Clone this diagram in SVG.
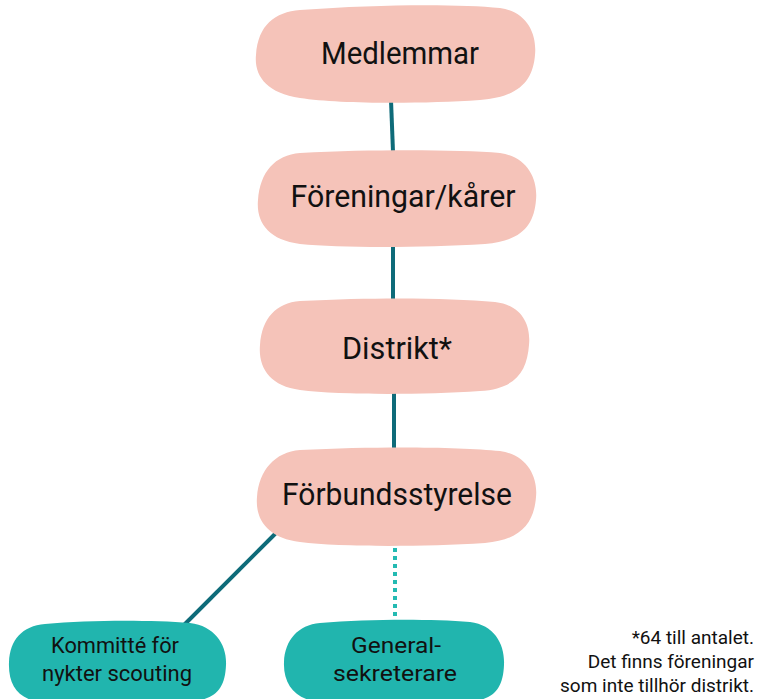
<svg xmlns="http://www.w3.org/2000/svg" width="759" height="699" viewBox="0 0 759 699">
<style>
.pink{fill:#f5c3b9}
.teal{fill:#21b5ae}
.t{font-family:Roboto,"Liberation Sans",sans-serif;fill:#111;text-anchor:middle}
.big{font-size:31px}
.small{font-size:22px}
.note{font-family:Roboto,"Liberation Sans",sans-serif;font-size:19px;fill:#111;text-anchor:end}
.c{stroke:#0e6b79;stroke-width:4;fill:none}
.d{stroke:#23bab2;stroke-width:4;fill:none;stroke-dasharray:4 4}
</style>
<rect width="759" height="699" fill="#fff"/>
<g id="connectors">
<path class="c" d="M391 100 L393 152"/>
<path class="c" d="M393 243 L393 300"/>
<path class="c" d="M394 390 L394 449"/>
<path class="c" d="M277 532 L183 626"/>
<path class="d" d="M395 548 L395 620"/>
</g>
<g id="medlemmar">
<path class="pink" d="M300 10 C380 4,460 4,500 8 C528 12,537 35,535 55 C533 80,520 97,480 100 C420 104,340 104,300 98 C266 93,254 75,256 55 C258 25,275 12,300 10 Z"/>
<text class="t big" x="400" y="64" textLength="158" lengthAdjust="spacingAndGlyphs">Medlemmar</text>
</g>
<g id="foreningar">
<path class="pink" d="M300 153 C380 149,460 150,500 153 C528 157,538 180,536 200 C534 225,522 241,485 244 C420 248,340 248,300 244 C268 240,256 222,258 200 C260 172,275 155,300 153 Z"/>
<text class="t big" x="403" y="207" textLength="225" lengthAdjust="spacingAndGlyphs">Föreningar/kårer</text>
</g>
<g id="distrikt">
<path class="pink" d="M300 301 C380 297,450 298,495 302 C522 305,531 325,529 345 C527 372,515 389,480 391 C420 395,340 395,300 390 C270 386,258 368,260 345 C262 318,276 303,300 301 Z"/>
<text class="t big" x="397" y="359" textLength="110" lengthAdjust="spacingAndGlyphs">Distrikt*</text>
</g>
<g id="forbundsstyrelse">
<path class="pink" d="M300 450 C380 446,460 447,500 451 C528 455,538 478,536 497 C534 522,522 540,485 543 C420 547,340 547,300 542 C268 538,255 520,257 497 C259 470,275 452,300 450 Z"/>
<text class="t big" x="397" y="505" textLength="230" lengthAdjust="spacingAndGlyphs">Förbundsstyrelse</text>
</g>
<g id="kommitte">
<path class="teal" d="M45 624 C90 620,150 620,190 623 C215 626,227 645,226 665 C225 690,215 699,190 702 L40 702 C18 699,8 685,9 662 C10 640,22 626,45 624 Z"/>
<text class="t small" x="115" y="653" textLength="128" lengthAdjust="spacingAndGlyphs">Kommitté för</text>
<text class="t small" x="117" y="681" textLength="150" lengthAdjust="spacingAndGlyphs">nykter scouting</text>
</g>
<g id="generalsekreterare">
<path class="teal" d="M320 623 C370 619,430 619,470 622 C495 625,505 645,504 665 C503 690,493 699,470 702 L318 702 C296 699,283 685,284 662 C285 640,298 625,320 623 Z"/>
<text class="t small" x="396" y="653" textLength="90" lengthAdjust="spacingAndGlyphs">General-</text>
<text class="t small" x="395" y="681" textLength="124" lengthAdjust="spacingAndGlyphs">sekreterare</text>
</g>
<g id="footnote">
<text class="note" x="754" y="644">*64 till antalet.</text>
<text class="note" x="754" y="668">Det finns föreningar</text>
<text class="note" x="754" y="692">som inte tillhör distrikt.</text>
</g>
</svg>
